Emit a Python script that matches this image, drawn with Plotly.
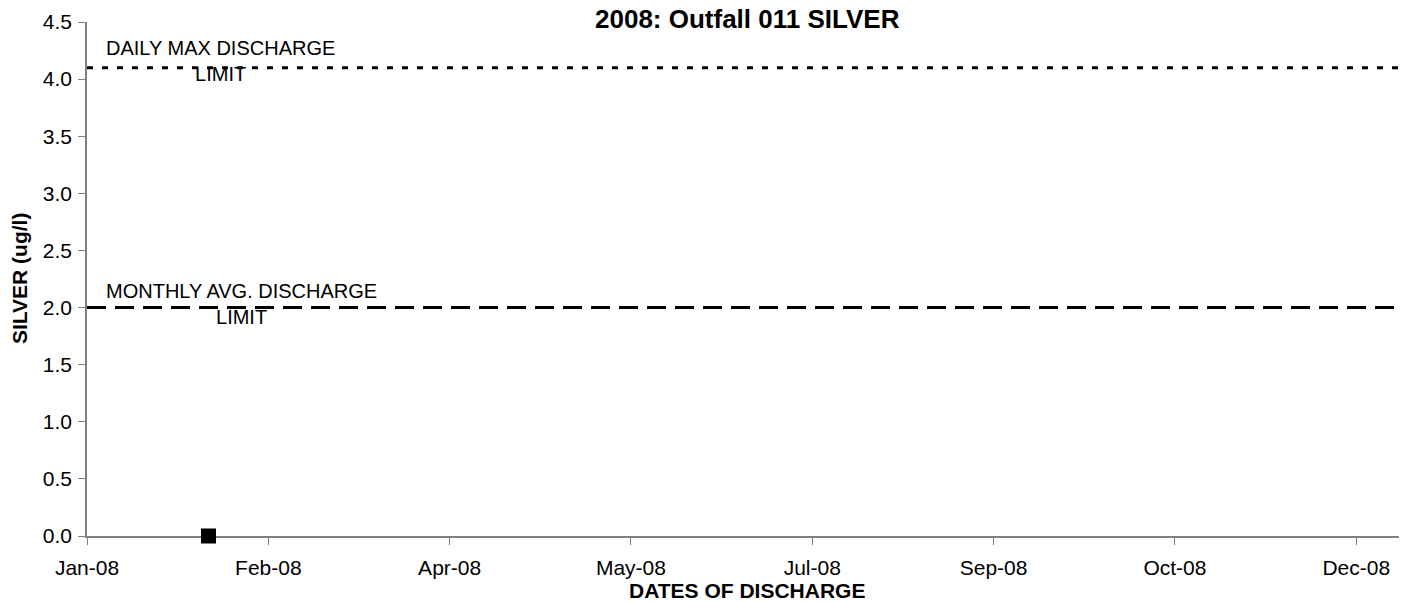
import plotly.graph_objects as go

# Data
sample_dates = ["2008-02-03 12:00"]
silver_values = [0.0]
limit_dates = ["2008-01-01", "2008-12-31"]
daily_max_limit = [4.1, 4.1]
monthly_avg_limit = [2.0, 2.0]

title_text = "2008: Outfall 011 SILVER"
x_title = "DATES OF DISCHARGE"
y_title = "SILVER (ug/l)"
daily_label = "DAILY MAX DISCHARGE<br>LIMIT"
monthly_label = "MONTHLY AVG. DISCHARGE<br>LIMIT"

FONT = "Liberation Sans, Arial, sans-serif"

fig = go.Figure()

fig.add_trace(go.Scatter(
    x=limit_dates, y=daily_max_limit, mode="lines",
    line=dict(color="black", width=3, dash="6px,9px"),
    hoverinfo="skip", showlegend=False))
fig.add_trace(go.Scatter(
    x=limit_dates, y=monthly_avg_limit, mode="lines",
    line=dict(color="black", width=3, dash="19px,9px"),
    hoverinfo="skip", showlegend=False))
fig.add_trace(go.Scatter(
    x=sample_dates, y=silver_values, mode="markers",
    marker=dict(symbol="square", size=15, color="black", line=dict(width=0)),
    showlegend=False, cliponaxis=False))

fig.update_layout(
    width=1399, height=594,
    margin=dict(l=79, r=0, t=14, b=66),
    paper_bgcolor="white", plot_bgcolor="white",
    font=dict(family=FONT, size=21, color="black"),
    showlegend=False,
    xaxis=dict(
        type="date",
        range=["2008-01-01", "2008-12-30"],
        tick0="2008-01-01", dtick=50 * 86400000,
        tickformat="%b-%y",
        showgrid=False, zeroline=False,
        showline=True, linecolor="#808080", linewidth=1.5,
        ticks="outside", ticklen=7, tickcolor="#808080", tickwidth=1,
        ticklabelstandoff=5,
        layer="below traces",
        tickfont=dict(family=FONT, size=21, color="black"),
    ),
    yaxis=dict(
        range=[0, 4.5], dtick=0.5, tickformat=".1f",
        showgrid=False, zeroline=False,
        showline=True, linecolor="#808080", linewidth=1.5,
        ticks="outside", ticklen=7, tickcolor="#808080", tickwidth=1,
        ticklabelstandoff=2,
        layer="below traces",
        tickfont=dict(family=FONT, size=21, color="black"),
    ),
    annotations=[
        dict(text="<b>" + title_text + "</b>", xref="paper", yref="paper",
             x=0.5, y=1, yshift=3, xanchor="center", yanchor="middle",
             showarrow=False, font=dict(family=FONT, size=26, color="black")),
        dict(text="<b>" + x_title + "</b>", xref="paper", yref="paper",
             x=0.5, y=0, yshift=-54, xanchor="center", yanchor="middle",
             showarrow=False, font=dict(family=FONT, size=21, color="black")),
        dict(text="<b>" + y_title + "</b>", xref="paper", yref="paper",
             x=0, y=0.5, xshift=-68, xanchor="center", yanchor="middle",
             textangle=-90, showarrow=False,
             font=dict(family=FONT, size=21, color="black")),
        dict(text=daily_label, x="2008-01-05 16:00", y=4.1, xref="x", yref="y",
             yshift=6.5,
             xanchor="left", yanchor="middle", align="center", showarrow=False,
             font=dict(family=FONT, size=20, color="black")),
        dict(text=monthly_label, x="2008-01-05 16:00", y=2.0, xref="x", yref="y",
             yshift=4,
             xanchor="left", yanchor="middle", align="center", showarrow=False,
             font=dict(family=FONT, size=20, color="black")),
    ],
)

fig.write_html("out.html")
